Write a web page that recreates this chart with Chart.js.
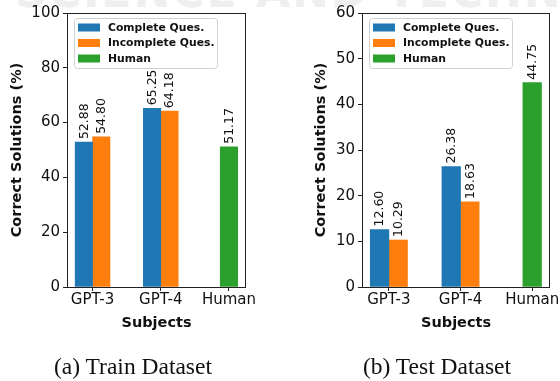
<!DOCTYPE html>
<html>
<head>
<meta charset="utf-8">
<script src="https://cdn.jsdelivr.net/npm/chart.js@4.4.1/dist/chart.umd.min.js"></script>
<style>
  body { margin: 0; background: #fff; }
  #wrap { position: relative; width: 560px; height: 381px; overflow: hidden; }
  #mark { position: absolute; left: 15px; top: -30px; font: bold 44px 'DejaVu Sans'; line-height: 1;
          letter-spacing: 2px; color: #efefef; white-space: nowrap; }
  canvas { position: absolute; top: 0; }
  .cap { position: absolute; top: 353px; width: 240px; text-align: center;
         font: 23.5px 'Liberation Serif'; color: #111; }
</style>
</head>
<body>
<div id="wrap">
  <div id="mark">SCIENCE AND TECHNOLOGY</div>
  <canvas id="trainChart" width="280" height="381" style="left:0"></canvas>
  <canvas id="testChart" width="280" height="381" style="left:280px"></canvas>
  <div class="cap" style="left:13px">(a) Train Dataset</div>
  <div class="cap" style="left:317px">(b) Test Dataset</div>
</div>
<script>
const subjects = ['GPT-3', 'GPT-4', 'Human'];
const seriesNames = ['Complete Ques.', 'Incomplete Ques.', 'Human'];
const seriesColors = ['#1f77b4', '#ff7f0e', '#2ca02c'];

// train dataset
const trainComplete = [52.88, 65.25, null];
const trainIncomplete = [54.80, 64.18, null];
const trainHuman = [null, null, 51.17];
const trainTicks = [0, 20, 40, 60, 80, 100];

// test dataset
const testComplete = [12.60, 26.38, null];
const testIncomplete = [10.29, 18.63, null];
const testHuman = [null, null, 44.75];
const testTicks = [0, 10, 20, 30, 40, 50, 60];

const font = 'DejaVu Sans';
const ink = '#111';

const pts = arr => arr.map((v, i) => ({ x: i, y: v }));

// value labels above bars, rotated
const barLabels = {
  id: 'barLabels',
  afterDatasetsDraw(chart) {
    const ctx = chart.ctx;
    ctx.save();
    ctx.font = '12.5px ' + font;
    ctx.fillStyle = ink;
    ctx.textAlign = 'left';
    ctx.textBaseline = 'middle';
    chart.data.datasets.forEach((ds, di) => {
      chart.getDatasetMeta(di).data.forEach((bar, i) => {
        const v = ds.data[i].y;
        if (v === null) return;
        ctx.save();
        ctx.translate(bar.x + 0.5, bar.y - 3);
        ctx.rotate(-Math.PI / 2);
        ctx.fillText(v.toFixed(2), 0, 0);
        ctx.restore();
      });
    });
    ctx.restore();
  }
};

// spines + legend box inside the axes
const frameAndLegend = {
  id: 'frameAndLegend',
  afterDraw(chart) {
    const { ctx, chartArea: a } = chart;
    ctx.save();
    ctx.strokeStyle = '#222';
    ctx.lineWidth = 1;
    ctx.strokeRect(Math.round(a.left) + 0.5, Math.round(a.top) + 0.5,
      Math.round(a.right - a.left) - 1, Math.round(a.bottom - a.top));

    const lx = a.left + 7, ly = a.top + 5, lw = 143, lh = 50;
    ctx.beginPath();
    ctx.roundRect(lx + 0.5, ly + 0.5, lw, lh, 3);
    ctx.fillStyle = 'rgba(255,255,255,0.8)';
    ctx.fill();
    ctx.strokeStyle = '#d0d0d0';
    ctx.stroke();

    ctx.font = 'bold 10.8px ' + font;
    ctx.textBaseline = 'middle';
    seriesNames.forEach((name, i) => {
      const cy = ly + 9.5 + i * 15.5;
      ctx.fillStyle = seriesColors[i];
      ctx.fillRect(lx + 4, cy - 4, 22, 8);
      ctx.fillStyle = ink;
      ctx.fillText(name, lx + 34, cy + 0.5);
    });
    ctx.restore();
  }
};

function makeChart(id, series, yMax, yTicks, opts) {
  return new Chart(document.getElementById(id), {
    type: 'bar',
    data: {
      datasets: series.map((s, i) => ({
        label: seriesNames[i],
        data: pts(s),
        backgroundColor: seriesColors[i],
        barThickness: opts.barWidth,
        skipNull: true
      }))
    },
    options: {
      responsive: false,
      animation: false,
      layout: { padding: { top: 13, right: opts.padRight, bottom: 44, left: opts.padLeft } },
      plugins: { legend: { display: false }, tooltip: { enabled: false } },
      scales: {
        x: {
          type: 'linear',
          min: -0.375,
          max: 2.25,
          offset: false,
          bounds: 'data',
          afterBuildTicks: s => { s.ticks = subjects.map((c, i) => ({ value: i })); },
          afterFit: s => { s.height = 50; },
          ticks: {
            callback: v => subjects[v],
            font: { family: font, size: 15 },
            color: ink,
            padding: 0,
            maxRotation: 0,
            autoSkip: false
          },
          grid: { drawOnChartArea: false, drawTicks: true, tickLength: 4, color: '#222', offset: false },
          border: { display: false },
          title: {
            display: true,
            text: 'Subjects',
            font: { family: font, size: 14.5, weight: 'bold' },
            color: ink,
            padding: { top: 0, bottom: 5 }
          }
        },
        y: {
          min: 0,
          max: yMax,
          afterBuildTicks: s => { s.ticks = yTicks.map(v => ({ value: v })); },
          afterFit: s => { s.width = opts.yWidth; },
          ticks: {
            font: { family: font, size: 15 },
            color: ink,
            padding: 3
          },
          grid: { drawOnChartArea: false, drawTicks: true, tickLength: 4, color: '#222' },
          border: { display: false },
          title: {
            display: true,
            text: 'Correct Solutions (%)',
            font: { family: font, size: 14.5, weight: 'bold' },
            color: ink,
            padding: { top: 9, bottom: 0 }
          }
        }
      }
    },
    plugins: [barLabels, frameAndLegend]
  });
}

makeChart('trainChart', [trainComplete, trainIncomplete, trainHuman], 100, trainTicks,
  { padLeft: 0, yWidth: 67, padRight: 34, barWidth: 17.4 });
makeChart('testChart', [testComplete, testIncomplete, testHuman], 60, testTicks,
  { padLeft: 24, yWidth: 58, padRight: 8, barWidth: 18.6 });
</script>
</body>
</html>
